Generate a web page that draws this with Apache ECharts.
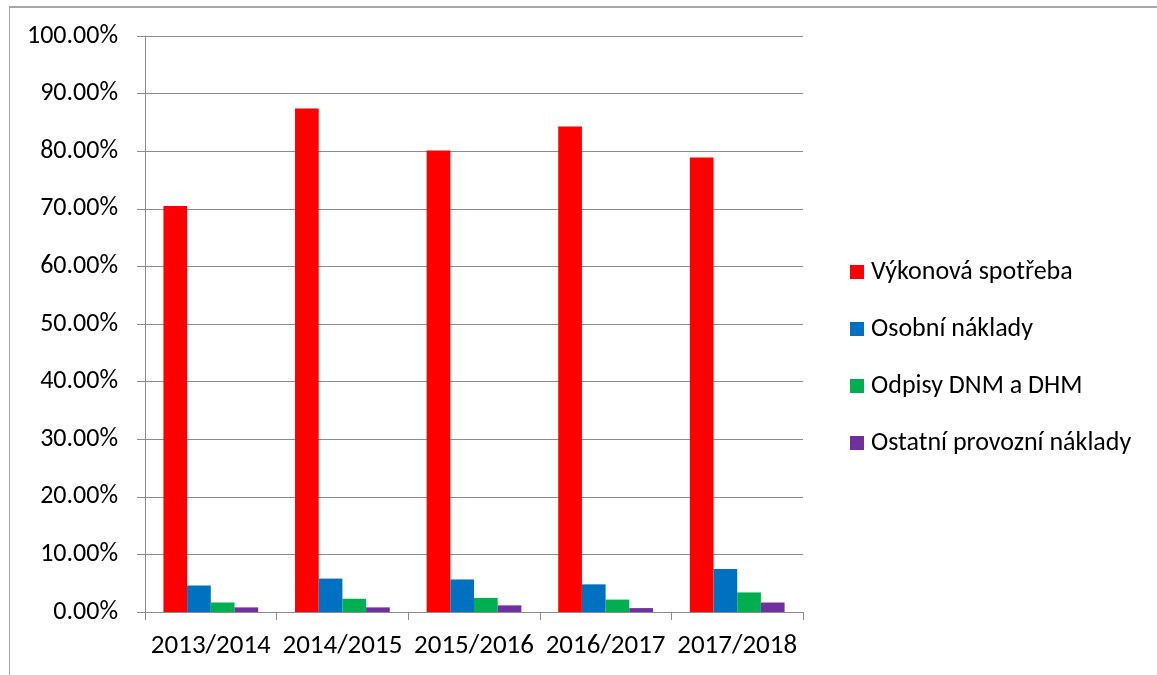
<!DOCTYPE html>
<html>
<head>
<meta charset="utf-8">
<script src="https://cdn.jsdelivr.net/npm/echarts@6/dist/echarts.min.js"></script>
<style>
  html, body { margin: 0; padding: 0; background: #fff; }
  #chart { width: 1157px; height: 675px; }
  .frame { position: absolute; left: 9px; top: 6px; right: 0; bottom: 0; border-left: 1px solid #a6a6a6; border-top: 2px solid #a6a6a6; pointer-events: none; }
</style>
</head>
<body>
<div id="chart"></div>
<div class="frame"></div>
<script>
const categories = ['2013/2014', '2014/2015', '2015/2016', '2016/2017', '2017/2018']
const seriesNames = ['Výkonová spotřeba', 'Osobní náklady', 'Odpisy DNM a DHM', 'Ostatní provozní náklady']
const vykonovaSpotreba = [70.5, 87.4, 80.1, 84.3, 78.9]
const osobniNaklady = [4.6, 5.8, 5.65, 4.8, 7.45]
const odpisy = [1.65, 2.3, 2.45, 2.15, 3.4]
const ostatni = [0.8, 0.8, 1.15, 0.68, 1.65]
const colors = ['#ff0000', '#0070c0', '#00b050', '#7030a0']

const font = 'Carlito, "Open Sans", "Noto Sans", sans-serif'
const chart = echarts.init(document.getElementById('chart'))

const data = [vykonovaSpotreba, osobniNaklady, odpisy, ostatni]

chart.setOption({
  animation: false,
  grid: { left: 145, right: 354, top: 36, bottom: 63 },
  legend: {
    orient: 'vertical',
    left: 845,
    top: 254,
    itemWidth: 14,
    itemHeight: 14,
    itemGap: 31,
    icon: 'rect',
    textStyle: { fontFamily: font, fontSize: 26, lineHeight: 26, color: '#000', padding: [0, 0, 0, 2] },
    data: seriesNames
  },
  xAxis: {
    type: 'category',
    data: categories,
    axisLine: { lineStyle: { color: '#8c8c8c' } },
    axisTick: { show: true, length: 8, lineStyle: { color: '#8c8c8c' } },
    axisLabel: { interval: 0, fontFamily: font, fontSize: 27, color: '#000', margin: 21 }
  },
  yAxis: {
    type: 'value',
    min: 0,
    max: 100,
    interval: 10,
    axisLine: { show: true, lineStyle: { color: '#8c8c8c' } },
    axisTick: { show: true, length: 8, lineStyle: { color: '#8c8c8c' } },
    splitLine: { lineStyle: { color: '#8c8c8c' } },
    axisLabel: { fontFamily: font, fontSize: 26, color: '#000', margin: 27, formatter: v => v.toFixed(2) + '%' }
  },
  series: seriesNames.map((name, i) => ({
    name,
    type: 'bar',
    data: data[i],
    barGap: '0%',
    barCategoryGap: '28%',
    itemStyle: { color: colors[i] }
  }))
})
</script>
</body>
</html>
